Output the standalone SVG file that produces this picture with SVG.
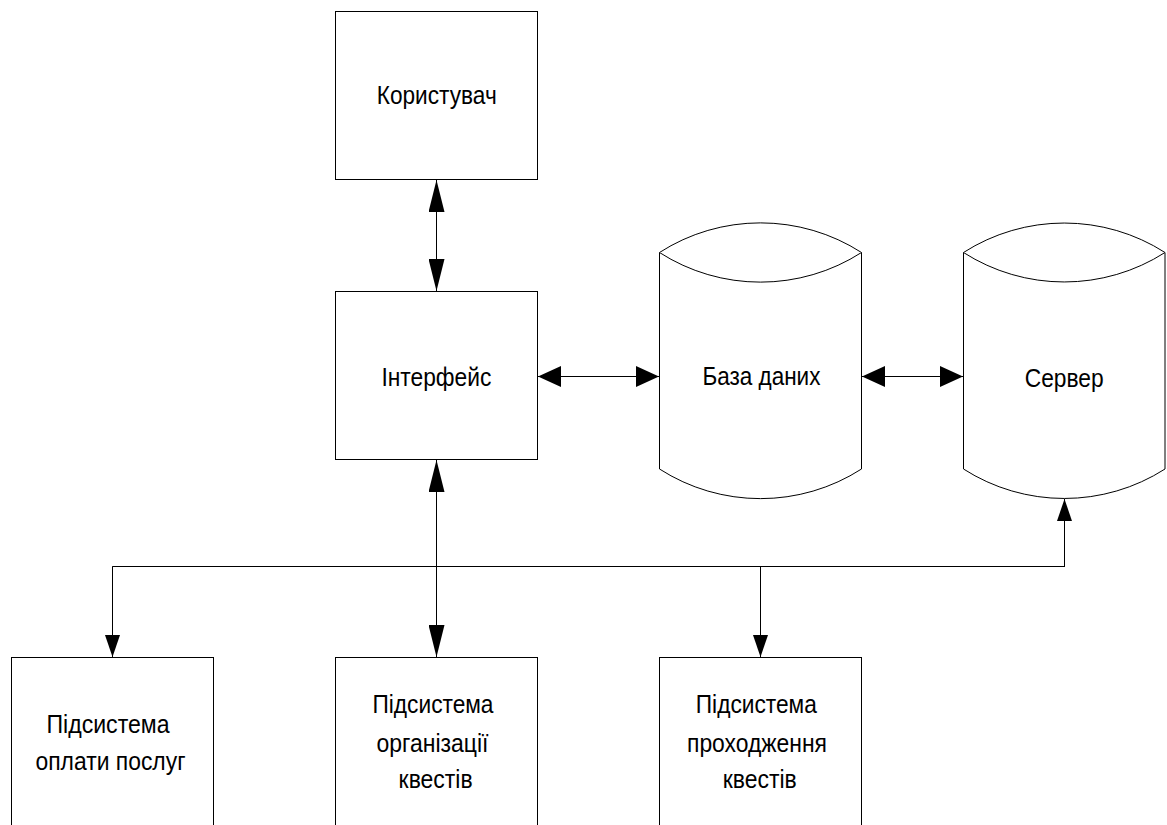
<svg xmlns="http://www.w3.org/2000/svg" width="1167" height="825" viewBox="0 0 1167 825">
  <style>
    .box { fill: #ffffff; stroke: #000000; stroke-width: 1; }
    .cyl { fill: #ffffff; stroke: #000000; stroke-width: 1; }
    .lbl { font-family: "Liberation Sans Narrow", "Liberation Sans", Arial, sans-serif; font-size: 25.5px; fill: #000000; text-anchor: middle; }
    .wire { fill: none; stroke: #000000; stroke-width: 1; }
  </style>
  <defs>
    <!-- long narrow head for the vertical links of the interface -->
    <marker id="headTall" markerUnits="userSpaceOnUse" viewBox="0 0 32 16" markerWidth="32" markerHeight="16" refX="32" refY="8" orient="auto-start-reverse">
      <path d="M0,0 L32,8 L0,16 Z" fill="#000000"/>
    </marker>
    <!-- short wide head for the horizontal links -->
    <marker id="headWide" markerUnits="userSpaceOnUse" viewBox="0 0 23 21" markerWidth="23" markerHeight="21" refX="23" refY="10.5" orient="auto-start-reverse">
      <path d="M0,0 L23,10.5 L0,21 Z" fill="#000000"/>
    </marker>
    <!-- small head for the bus drops -->
    <marker id="headSmall" markerUnits="userSpaceOnUse" viewBox="0 0 22 15" markerWidth="22" markerHeight="15" refX="22" refY="7.5" orient="auto">
      <path d="M0,0 L22,7.5 L0,15 Z" fill="#000000"/>
    </marker>
  </defs>

  <rect width="1167" height="825" fill="#ffffff"/>

  <!-- connectors -->
  <g id="connectors">
    <line class="wire" x1="436.5" y1="180" x2="436.5" y2="291" marker-start="url(#headTall)" marker-end="url(#headTall)"/>
    <line class="wire" x1="538" y1="376.5" x2="659" y2="376.5" marker-start="url(#headWide)" marker-end="url(#headWide)"/>
    <line class="wire" x1="862" y1="376.5" x2="963" y2="376.5" marker-start="url(#headWide)" marker-end="url(#headWide)"/>
    <line class="wire" x1="436.5" y1="460" x2="436.5" y2="657" marker-start="url(#headTall)" marker-end="url(#headTall)"/>
    <!-- distribution bus from the server -->
    <polyline class="wire" points="112.5,567 112.5,566.5 1064.5,566.5 1064.5,567"/>
    <line class="wire" x1="1064.5" y1="567" x2="1064.5" y2="499" marker-end="url(#headSmall)"/>
    <line class="wire" x1="112.5" y1="566.5" x2="112.5" y2="657" marker-end="url(#headSmall)"/>
    <line class="wire" x1="760.5" y1="566.5" x2="760.5" y2="657" marker-end="url(#headSmall)"/>
  </g>

  <g id="user">
    <rect class="box" x="335.5" y="11.5" width="202" height="168"/>
    <text class="lbl" x="436.7" y="104" textLength="120" lengthAdjust="spacingAndGlyphs">Користувач</text>
  </g>

  <g id="interface">
    <rect class="box" x="335.5" y="291.5" width="202" height="168"/>
    <text class="lbl" x="436.4" y="386" textLength="110" lengthAdjust="spacingAndGlyphs">Інтерфейс</text>
  </g>

  <g id="database">
    <path class="cyl" d="M659.5,252.5 A187,187 0 0 1 861.5,252.5 L861.5,469 A187,187 0 0 1 659.5,469 Z"/>
    <path class="cyl" d="M659.5,252.5 A187,187 0 0 0 861.5,252.5" fill="none"/>
    <text class="lbl" x="761.4" y="385" textLength="118" lengthAdjust="spacingAndGlyphs">База даних</text>
  </g>

  <g id="server">
    <path class="cyl" d="M963.5,252.5 A187,187 0 0 1 1165,252.5 L1165,469 A187,187 0 0 1 963.5,469 Z"/>
    <path class="cyl" d="M963.5,252.5 A187,187 0 0 0 1165,252.5" fill="none"/>
    <text class="lbl" x="1064.2" y="386.5" textLength="79" lengthAdjust="spacingAndGlyphs">Сервер</text>
  </g>

  <g id="payment">
    <rect class="box" x="11.5" y="657.5" width="202" height="180"/>
    <text class="lbl" x="108" y="732.5" textLength="123" lengthAdjust="spacingAndGlyphs">Підсистема</text>
    <text class="lbl" x="110.5" y="769.5" textLength="150" lengthAdjust="spacingAndGlyphs">оплати послуг</text>
  </g>

  <g id="organization">
    <rect class="box" x="335.5" y="657.5" width="202" height="180"/>
    <text class="lbl" x="433" y="713" textLength="121" lengthAdjust="spacingAndGlyphs">Підсистема</text>
    <text class="lbl" x="432.5" y="751.5" textLength="112" lengthAdjust="spacingAndGlyphs">організації</text>
    <text class="lbl" x="435.6" y="788" textLength="74" lengthAdjust="spacingAndGlyphs">квестів</text>
  </g>

  <g id="passing">
    <rect class="box" x="659.5" y="657.5" width="202" height="180"/>
    <text class="lbl" x="756.3" y="713" textLength="121" lengthAdjust="spacingAndGlyphs">Підсистема</text>
    <text class="lbl" x="757" y="751.5" textLength="140" lengthAdjust="spacingAndGlyphs">проходження</text>
    <text class="lbl" x="759.7" y="788" textLength="74" lengthAdjust="spacingAndGlyphs">квестів</text>
  </g>
</svg>
